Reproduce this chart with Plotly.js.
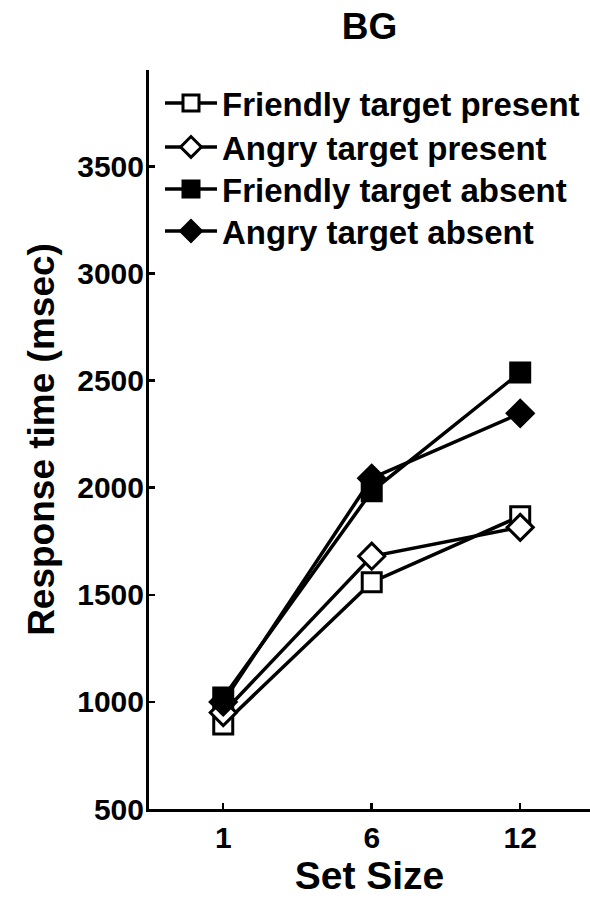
<!DOCTYPE html>
<html>
<head>
<meta charset="utf-8">
<script src="https://cdn.plot.ly/plotly-3.0.1.min.js"></script>
<style>
  html, body { margin: 0; padding: 0; background: #fff; }
  #chart { width: 590px; height: 898px; }
</style>
</head>
<body>
<div id="chart"></div>
<script>
// Data
const setSizes = ['1', '6', '12'];
const friendlyPresent = [895, 1559, 1867];
const angryPresent = [950, 1680, 1815];
const friendlyAbsent = [1020, 1983, 2538];
const angryAbsent = [1000, 2044, 2347];
const yTickVals = [500, 1000, 1500, 2000, 2500, 3000, 3500];
const yTickText = ['500', '1000', '1500', '2000', '2500', '3000', '3500'];

const seriesNames = ['Friendly target present', 'Angry target present', 'Friendly target absent', 'Angry target absent'];
const seriesValues = [friendlyPresent, angryPresent, friendlyAbsent, angryAbsent];
const seriesSymbols = ['square', 'diamond', 'square', 'diamond'];
const seriesFill = ['#ffffff', '#ffffff', '#000000', '#000000'];
const seriesSize = [19, 20, 19, 20];
const legendIds = ['legend', 'legend2', 'legend3', 'legend4'];

const FONT = 'Liberation Sans, Arial, Helvetica, sans-serif';

const traces = seriesNames.map((name, i) => ({
  type: 'scatter',
  mode: 'lines+markers',
  name: name,
  legend: legendIds[i],
  x: setSizes,
  y: seriesValues[i],
  line: { color: '#000000', width: 3.5 },
  marker: {
    symbol: seriesSymbols[i],
    size: seriesSize[i],
    color: seriesFill[i],
    line: { color: '#000000', width: 3 }
  },
  cliponaxis: false
}));

// plot area: top 70, height 739 px
const rowCenters = [103, 147, 189, 231];
function legendAt(py) {
  return {
    x: (160 - 149) / 441, xanchor: 'left',
    y: 1 - (py - 70) / 739, yanchor: 'middle',
    bgcolor: 'rgba(0,0,0,0)',
    borderwidth: 0,
    font: { family: FONT, size: 33, weight: 'bold', color: '#000' },
    itemwidth: 52
  };
}

const layout = {
  width: 590,
  height: 898,
  margin: { l: 149, r: 0, t: 70, b: 89 },
  paper_bgcolor: '#ffffff',
  plot_bgcolor: '#ffffff',
  font: { family: FONT, color: '#000000', weight: 'bold' },
  title: {
    text: 'BG',
    font: { family: FONT, size: 37, weight: 'bold', color: '#000' },
    x: 0.5, xref: 'paper', xanchor: 'center',
    y: 1 - 26 / 898, yref: 'container', yanchor: 'middle'
  },
  xaxis: {
    type: 'category',
    range: [-0.5, 2.47],
    showgrid: false,
    zeroline: false,
    showline: true,
    linecolor: '#000',
    linewidth: 3,
    ticks: 'inside',
    ticklen: 6,
    tickwidth: 2.5,
    tickcolor: '#000',
    tickfont: { family: FONT, size: 30, weight: 'bold' },
    title: { text: 'Set Size', font: { family: FONT, size: 39, weight: 'bold' }, standoff: 6 },
    fixedrange: true
  },
  yaxis: {
    range: [500, 3950],
    tickvals: yTickVals,
    ticktext: yTickText,
    showgrid: false,
    zeroline: false,
    showline: true,
    linecolor: '#000',
    linewidth: 3,
    ticks: 'inside',
    ticklen: 6,
    tickwidth: 2.5,
    tickcolor: '#000',
    ticklabelstandoff: -4,
    tickfont: { family: FONT, size: 30, weight: 'bold' },
    title: { text: 'Response time (msec)', font: { family: FONT, size: 37, weight: 'bold' }, standoff: 12 },
    fixedrange: true
  },
  showlegend: true,
  legend: legendAt(rowCenters[0]),
  legend2: legendAt(rowCenters[1]),
  legend3: legendAt(rowCenters[2]),
  legend4: legendAt(rowCenters[3])
};

Plotly.newPlot('chart', traces, layout, { displayModeBar: false, staticPlot: true });
</script>
</body>
</html>
